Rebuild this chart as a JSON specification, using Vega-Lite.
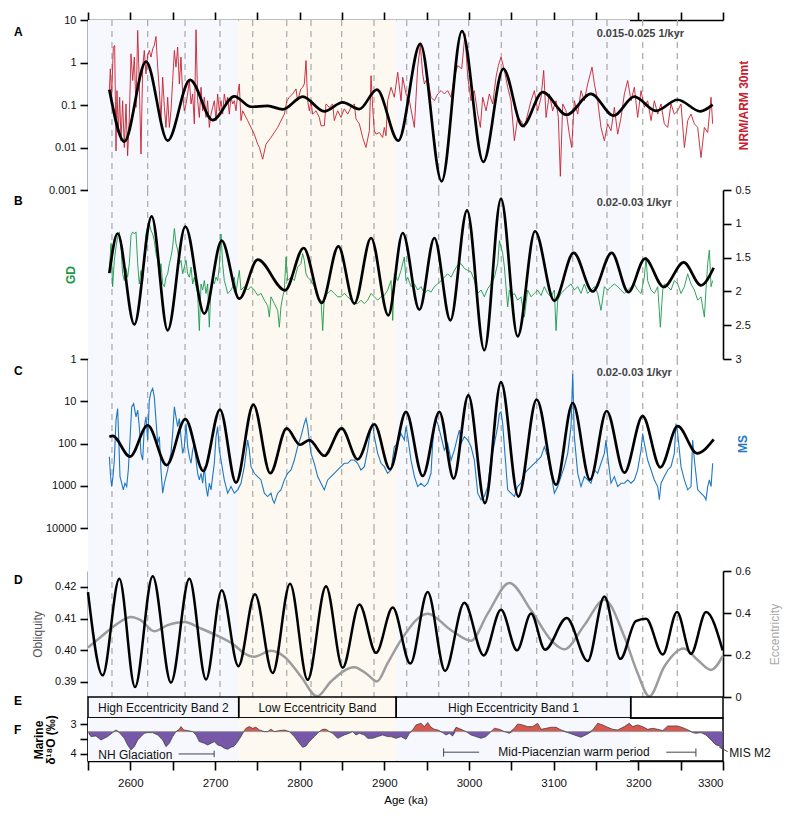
{
"$schema":"https://vega.github.io/schema/vega-lite/v6.json",
"padding":{"left":13,"top":11,"right":5,"bottom":5},
"spacing":0,
"bounds":"flush",
"config":{"font":"Liberation Sans","view":{"stroke":null},
"axis":{"grid":false,"domainColor":"#000","domainWidth":1.6,"tickColor":"#000","tickWidth":1.6,"tickSize":8,"labelFontSize":11,"labelColor":"#111","labelPadding":4,"titleFontWeight":"normal","titleColor":"#000"}},
"datasets":{
"bands":[{"s":2550,"e":2728,"c":"hi"},{"s":2728,"e":2914,"c":"lo"},{"s":2914,"e":3190,"c":"hi"}],
"dash":[{"a":2578.3},{"a":2620.5},{"a":2664.6},{"a":2705.9},{"a":2744.5},{"a":2784.7},{"a":2813.4},{"a":2849.6},{"a":2887.8},{"a":2926.4},{"a":2964.2},{"a":2999.6},{"a":3038.1},{"a":3080},{"a":3122.5},{"a":3163},{"a":3205.2},{"a":3246}],
"nrm":[{"a":2575.2,"v":0.218},{"a":2576.4,"v":0.71},{"a":2577.9,"v":0.152},{"a":2579.9,"v":2.3},{"a":2581.5,"v":2.52},{"a":2583.1,"v":0.0083},{"a":2584.2,"v":0.218},{"a":2585.8,"v":0.0226},{"a":2587.4,"v":0.152},{"a":2589.0,"v":0.0144},{"a":2590.9,"v":0.126},{"a":2592.9,"v":0.01},{"a":2594.9,"v":0.106},{"a":2596.8,"v":0.0064},{"a":2598.8,"v":0.051},{"a":2600.8,"v":1.6},{"a":2602.8,"v":0.376},{"a":2604.7,"v":1.34},{"a":2606.7,"v":0.088},{"a":2608.7,"v":5.7},{"a":2610.6,"v":0.313},{"a":2612.6,"v":0.007},{"a":2614.6,"v":0.78},{"a":2616.5,"v":1.92},{"a":2618.5,"v":0.54},{"a":2620.5,"v":1.46},{"a":2622.4,"v":1.92},{"a":2624.4,"v":1.34},{"a":2626.4,"v":2.1},{"a":2628.3,"v":2.52},{"a":2630.3,"v":4.1},{"a":2632.3,"v":0.78},{"a":2634.3,"v":0.218},{"a":2636.2,"v":0.043},{"a":2638.2,"v":0.45},{"a":2640.2,"v":0.088},{"a":2642.1,"v":0.0297},{"a":2644.1,"v":0.152},{"a":2646.1,"v":0.0297},{"a":2648.0,"v":0.073},{"a":2650.0,"v":0.376},{"a":2652.0,"v":1.92},{"a":2653.9,"v":0.78},{"a":2655.9,"v":2.3},{"a":2657.9,"v":0.313},{"a":2659.8,"v":1.34},{"a":2661.8,"v":0.182},{"a":2663.8,"v":0.073},{"a":2665.8,"v":0.106},{"a":2667.7,"v":0.182},{"a":2669.7,"v":0.376},{"a":2671.7,"v":0.106},{"a":2673.6,"v":0.182},{"a":2675.6,"v":0.036},{"a":2677.6,"v":5.9},{"a":2679.5,"v":0.126},{"a":2681.5,"v":0.051},{"a":2683.5,"v":0.261},{"a":2685.4,"v":0.073},{"a":2687.4,"v":0.152},{"a":2689.4,"v":0.051},{"a":2691.3,"v":0.126},{"a":2693.3,"v":0.0297},{"a":2695.3,"v":0.061},{"a":2697.2,"v":0.088},{"a":2699.2,"v":0.126},{"a":2701.2,"v":0.043},{"a":2703.1,"v":0.182},{"a":2705.1,"v":0.073},{"a":2707.1,"v":0.126},{"a":2709.0,"v":0.061},{"a":2711.0,"v":0.182},{"a":2713.0,"v":0.106},{"a":2715.0,"v":0.152},{"a":2716.9,"v":0.061},{"a":2718.9,"v":0.152},{"a":2720.9,"v":0.106},{"a":2722.8,"v":0.126},{"a":2724.8,"v":0.073},{"a":2726.8,"v":0.182},{"a":2728.7,"v":0.313},{"a":2730.7,"v":0.043},{"a":2732.7,"v":0.073},{"a":2738.6,"v":0.043},{"a":2746.4,"v":0.0206},{"a":2750.4,"v":0.012},{"a":2752.4,"v":0.01},{"a":2756.3,"v":0.0053},{"a":2760.2,"v":0.012},{"a":2766.1,"v":0.0172},{"a":2774.0,"v":0.0297},{"a":2781.9,"v":0.061},{"a":2785.0,"v":0.126},{"a":2787.8,"v":0.152},{"a":2791.7,"v":0.182},{"a":2795.7,"v":0.239},{"a":2797.6,"v":0.126},{"a":2801.5,"v":0.239},{"a":2803.5,"v":0.261},{"a":2805.5,"v":0.313},{"a":2807.5,"v":1.11},{"a":2809.4,"v":0.126},{"a":2811.4,"v":0.073},{"a":2813.4,"v":0.126},{"a":2815.3,"v":0.061},{"a":2819.3,"v":0.073},{"a":2823.2,"v":0.051},{"a":2825.2,"v":0.0325},{"a":2829.1,"v":0.0325},{"a":2831.1,"v":0.106},{"a":2835.0,"v":0.088},{"a":2839.0,"v":0.106},{"a":2840.9,"v":0.043},{"a":2844.9,"v":0.073},{"a":2848.8,"v":0.051},{"a":2852.7,"v":0.081},{"a":2856.7,"v":0.061},{"a":2860.6,"v":0.088},{"a":2864.6,"v":0.106},{"a":2866.5,"v":0.047},{"a":2870.5,"v":0.036},{"a":2874.4,"v":0.0172},{"a":2878.3,"v":0.01},{"a":2882.3,"v":0.0248},{"a":2884.3,"v":0.49},{"a":2886.2,"v":0.088},{"a":2888.2,"v":0.0248},{"a":2890.2,"v":0.0206},{"a":2894.1,"v":0.0226},{"a":2898.0,"v":0.0172},{"a":2900.0,"v":0.0297},{"a":2902.0,"v":0.0189},{"a":2903.9,"v":0.126},{"a":2907.9,"v":0.261},{"a":2911.8,"v":0.152},{"a":2915.8,"v":0.59},{"a":2919.7,"v":0.126},{"a":2921.7,"v":0.45},{"a":2925.6,"v":0.182},{"a":2929.6,"v":0.126},{"a":2935.5,"v":0.0297},{"a":2939.4,"v":0.78},{"a":2942.5,"v":2.52},{"a":2945.3,"v":0.54},{"a":2947.3,"v":0.313},{"a":2951.2,"v":0.45},{"a":2955.1,"v":0.152},{"a":2959.1,"v":0.126},{"a":2963.0,"v":0.182},{"a":2967.0,"v":0.218},{"a":2970.9,"v":0.182},{"a":2974.8,"v":0.218},{"a":2978.8,"v":0.152},{"a":2982.7,"v":0.45},{"a":2986.6,"v":0.85},{"a":2991.4,"v":0.71},{"a":2995.3,"v":4.75},{"a":2998.5,"v":0.45},{"a":3002.4,"v":0.126},{"a":3006.3,"v":0.218},{"a":3010.3,"v":0.061},{"a":3013.4,"v":0.0297},{"a":3016.2,"v":0.152},{"a":3020.1,"v":0.073},{"a":3024.0,"v":0.182},{"a":3028.0,"v":0.106},{"a":3031.9,"v":0.45},{"a":3034.7,"v":0.85},{"a":3037.8,"v":1.34},{"a":3041.8,"v":0.65},{"a":3045.7,"v":0.261},{"a":3049.6,"v":0.126},{"a":3053.6,"v":0.0144},{"a":3057.5,"v":0.051},{"a":3061.4,"v":0.043},{"a":3065.4,"v":0.0297},{"a":3069.3,"v":0.061},{"a":3073.3,"v":0.126},{"a":3077.2,"v":0.218},{"a":3081.1,"v":0.073},{"a":3085.1,"v":0.152},{"a":3088.2,"v":0.65},{"a":3091.0,"v":0.051},{"a":3094.9,"v":0.182},{"a":3098.8,"v":0.073},{"a":3102.8,"v":0.126},{"a":3105.5,"v":0.051},{"a":3107.9,"v":0.0021},{"a":3110.7,"v":0.106},{"a":3114.6,"v":0.073},{"a":3118.5,"v":0.0206},{"a":3121.3,"v":0.01},{"a":3124.4,"v":0.126},{"a":3128.4,"v":0.061},{"a":3132.3,"v":0.218},{"a":3136.2,"v":0.126},{"a":3140.2,"v":0.313},{"a":3143.3,"v":0.54},{"a":3145.3,"v":0.78},{"a":3148.1,"v":0.313},{"a":3152.0,"v":0.126},{"a":3155.9,"v":0.0297},{"a":3159.9,"v":0.0144},{"a":3163.8,"v":0.036},{"a":3167.7,"v":0.0248},{"a":3171.7,"v":0.088},{"a":3175.6,"v":0.0206},{"a":3179.6,"v":0.051},{"a":3183.5,"v":0.182},{"a":3187.4,"v":0.376},{"a":3191.4,"v":0.126},{"a":3195.3,"v":0.261},{"a":3199.2,"v":0.051},{"a":3203.2,"v":0.218},{"a":3207.1,"v":0.088},{"a":3211.0,"v":0.126},{"a":3215.0,"v":0.043},{"a":3218.9,"v":0.126},{"a":3222.9,"v":0.061},{"a":3226.8,"v":0.106},{"a":3230.7,"v":0.036},{"a":3234.7,"v":0.0297},{"a":3238.6,"v":0.106},{"a":3242.5,"v":0.061},{"a":3246.5,"v":0.073},{"a":3250.4,"v":0.106},{"a":3254.4,"v":0.01},{"a":3258.3,"v":0.043},{"a":3262.2,"v":0.061},{"a":3266.2,"v":0.036},{"a":3270.1,"v":0.0297},{"a":3274.0,"v":0.0058},{"a":3278.0,"v":0.0297},{"a":3281.9,"v":0.0226},{"a":3285.9,"v":0.152},{"a":3287.8,"v":0.036}],
"nrmF":[{"a":2575.2,"v":0.23},{"a":2592.9,"v":0.0138},{"a":2618.5,"v":1.05},{"a":2644.1,"v":0.0145},{"a":2670.5,"v":0.39},{"a":2697.3,"v":0.044},{"a":2722.8,"v":0.16},{"a":2742.5,"v":0.091},{"a":2762.2,"v":0.095},{"a":2780,"v":0.079},{"a":2803.6,"v":0.158},{"a":2829,"v":0.071},{"a":2850.8,"v":0.115},{"a":2870.4,"v":0.08},{"a":2891.3,"v":0.23},{"a":2916.5,"v":0.0145},{"a":2942.5,"v":2.75},{"a":2967.7,"v":0.0016},{"a":2991.7,"v":5.5},{"a":3016.9,"v":0.0046},{"a":3040.5,"v":0.71},{"a":3063.4,"v":0.032},{"a":3087,"v":0.2},{"a":3115.3,"v":0.059},{"a":3144,"v":0.182},{"a":3170.9,"v":0.056},{"a":3195.2,"v":0.158},{"a":3220.9,"v":0.073},{"a":3246.5,"v":0.133},{"a":3273.2,"v":0.071},{"a":3287.8,"v":0.102}],
"gd":[{"a":2575.2,"v":1.69},{"a":2577.2,"v":1.29},{"a":2579.1,"v":1.93},{"a":2581.1,"v":1.54},{"a":2583.1,"v":1.34},{"a":2585.0,"v":1.2},{"a":2587.0,"v":1.12},{"a":2589.0,"v":1.34},{"a":2590.9,"v":1.74},{"a":2592.9,"v":1.84},{"a":2594.9,"v":1.66},{"a":2596.8,"v":1.79},{"a":2598.8,"v":1.59},{"a":2600.8,"v":1.17},{"a":2602.8,"v":1.12},{"a":2604.7,"v":1.15},{"a":2606.7,"v":1.12},{"a":2608.7,"v":1.59},{"a":2610.6,"v":1.89},{"a":2612.6,"v":1.69},{"a":2614.6,"v":1.84},{"a":2616.5,"v":1.44},{"a":2618.5,"v":1.15},{"a":2620.5,"v":1.05},{"a":2622.4,"v":1.0},{"a":2624.4,"v":1.1},{"a":2626.4,"v":1.15},{"a":2628.3,"v":1.25},{"a":2630.3,"v":1.44},{"a":2632.3,"v":1.54},{"a":2634.3,"v":1.79},{"a":2636.2,"v":1.59},{"a":2638.2,"v":1.89},{"a":2640.2,"v":1.93},{"a":2642.1,"v":1.79},{"a":2644.1,"v":1.74},{"a":2646.1,"v":1.59},{"a":2648.0,"v":1.49},{"a":2650.0,"v":1.34},{"a":2652.0,"v":1.07},{"a":2653.9,"v":1.29},{"a":2655.9,"v":1.39},{"a":2657.9,"v":1.59},{"a":2659.8,"v":1.54},{"a":2661.8,"v":1.74},{"a":2663.8,"v":1.64},{"a":2665.8,"v":1.54},{"a":2667.7,"v":1.74},{"a":2669.7,"v":1.79},{"a":2671.7,"v":1.64},{"a":2673.6,"v":1.89},{"a":2675.6,"v":1.79},{"a":2677.6,"v":1.93},{"a":2679.5,"v":2.03},{"a":2681.5,"v":2.58},{"a":2683.5,"v":1.89},{"a":2685.4,"v":1.98},{"a":2687.4,"v":1.84},{"a":2689.4,"v":2.03},{"a":2691.3,"v":1.89},{"a":2693.3,"v":2.53},{"a":2695.3,"v":1.93},{"a":2697.2,"v":1.84},{"a":2699.2,"v":1.89},{"a":2701.2,"v":1.79},{"a":2703.1,"v":1.84},{"a":2705.1,"v":1.64},{"a":2707.1,"v":1.15},{"a":2709.0,"v":1.59},{"a":2711.0,"v":1.84},{"a":2713.0,"v":1.93},{"a":2715.0,"v":2.03},{"a":2716.9,"v":2.01},{"a":2718.9,"v":1.98},{"a":2720.9,"v":1.93},{"a":2722.8,"v":1.79},{"a":2724.8,"v":2.03},{"a":2726.8,"v":1.84},{"a":2728.7,"v":1.69},{"a":2730.7,"v":1.98},{"a":2734.6,"v":1.93},{"a":2738.6,"v":1.98},{"a":2742.5,"v":1.93},{"a":2746.4,"v":1.98},{"a":2750.4,"v":2.06},{"a":2754.3,"v":2.03},{"a":2758.3,"v":2.13},{"a":2762.2,"v":2.21},{"a":2764.2,"v":2.38},{"a":2766.1,"v":2.08},{"a":2770.1,"v":2.18},{"a":2774.0,"v":2.28},{"a":2776.0,"v":2.53},{"a":2777.9,"v":2.23},{"a":2779.9,"v":2.08},{"a":2781.9,"v":1.98},{"a":2783.9,"v":1.49},{"a":2785.8,"v":1.84},{"a":2789.8,"v":1.79},{"a":2793.7,"v":1.84},{"a":2797.6,"v":1.64},{"a":2801.5,"v":1.59},{"a":2803.5,"v":1.44},{"a":2805.5,"v":1.54},{"a":2807.5,"v":1.74},{"a":2809.4,"v":1.79},{"a":2813.4,"v":1.84},{"a":2817.3,"v":1.93},{"a":2821.3,"v":2.08},{"a":2825.2,"v":2.13},{"a":2827.2,"v":2.58},{"a":2829.1,"v":2.08},{"a":2833.1,"v":2.03},{"a":2837.0,"v":1.98},{"a":2840.9,"v":2.03},{"a":2844.9,"v":2.08},{"a":2848.8,"v":2.08},{"a":2852.7,"v":2.03},{"a":2856.7,"v":2.08},{"a":2860.6,"v":2.13},{"a":2864.6,"v":2.18},{"a":2868.5,"v":2.18},{"a":2872.4,"v":2.13},{"a":2876.4,"v":2.18},{"a":2880.3,"v":2.13},{"a":2884.3,"v":2.03},{"a":2888.2,"v":2.08},{"a":2892.1,"v":2.13},{"a":2896.1,"v":2.08},{"a":2900.0,"v":2.06},{"a":2903.9,"v":1.98},{"a":2907.9,"v":1.84},{"a":2909.9,"v":2.43},{"a":2911.8,"v":1.74},{"a":2915.8,"v":1.84},{"a":2919.7,"v":1.69},{"a":2923.6,"v":1.49},{"a":2925.6,"v":1.84},{"a":2927.6,"v":1.79},{"a":2931.5,"v":1.93},{"a":2935.5,"v":1.89},{"a":2939.4,"v":1.98},{"a":2943.3,"v":1.93},{"a":2947.3,"v":2.03},{"a":2951.2,"v":1.98},{"a":2955.1,"v":2.01},{"a":2959.1,"v":1.93},{"a":2963.0,"v":1.89},{"a":2967.0,"v":1.84},{"a":2970.9,"v":1.79},{"a":2974.8,"v":1.74},{"a":2978.8,"v":1.79},{"a":2982.7,"v":1.69},{"a":2986.6,"v":1.61},{"a":2990.6,"v":1.59},{"a":2994.5,"v":1.66},{"a":2998.5,"v":1.69},{"a":3002.4,"v":1.71},{"a":3006.3,"v":1.84},{"a":3010.3,"v":2.03},{"a":3014.2,"v":1.98},{"a":3018.1,"v":2.08},{"a":3022.1,"v":1.96},{"a":3026.0,"v":1.89},{"a":3030.0,"v":1.79},{"a":3033.9,"v":1.59},{"a":3035.9,"v":1.25},{"a":3037.8,"v":1.34},{"a":3039.8,"v":1.44},{"a":3041.8,"v":1.64},{"a":3043.7,"v":1.93},{"a":3045.7,"v":2.23},{"a":3047.7,"v":1.98},{"a":3049.6,"v":2.08},{"a":3053.6,"v":2.03},{"a":3057.5,"v":2.13},{"a":3061.4,"v":2.08},{"a":3065.4,"v":2.38},{"a":3069.3,"v":1.98},{"a":3073.3,"v":2.08},{"a":3077.2,"v":2.03},{"a":3081.1,"v":1.98},{"a":3085.1,"v":2.06},{"a":3089.0,"v":1.93},{"a":3092.9,"v":2.03},{"a":3096.9,"v":2.08},{"a":3100.8,"v":1.98},{"a":3102.8,"v":2.58},{"a":3104.8,"v":2.13},{"a":3108.7,"v":2.03},{"a":3112.6,"v":1.98},{"a":3116.6,"v":1.93},{"a":3120.5,"v":1.89},{"a":3124.4,"v":1.98},{"a":3128.4,"v":1.93},{"a":3132.3,"v":2.03},{"a":3136.2,"v":1.89},{"a":3140.2,"v":2.03},{"a":3144.1,"v":1.98},{"a":3148.1,"v":1.93},{"a":3152.0,"v":2.03},{"a":3155.9,"v":2.28},{"a":3159.9,"v":1.93},{"a":3163.8,"v":1.98},{"a":3167.7,"v":1.93},{"a":3171.7,"v":1.89},{"a":3175.6,"v":1.93},{"a":3179.6,"v":1.98},{"a":3183.5,"v":2.03},{"a":3187.4,"v":1.98},{"a":3191.4,"v":1.93},{"a":3195.3,"v":1.89},{"a":3199.2,"v":1.98},{"a":3203.2,"v":2.03},{"a":3207.1,"v":1.79},{"a":3209.1,"v":1.49},{"a":3211.0,"v":1.84},{"a":3215.0,"v":1.98},{"a":3218.9,"v":2.03},{"a":3222.9,"v":1.93},{"a":3226.0,"v":2.53},{"a":3228.8,"v":1.98},{"a":3230.7,"v":1.89},{"a":3234.7,"v":1.93},{"a":3238.6,"v":1.98},{"a":3242.5,"v":1.84},{"a":3246.5,"v":1.89},{"a":3250.4,"v":2.03},{"a":3254.4,"v":1.93},{"a":3258.3,"v":1.74},{"a":3262.2,"v":1.89},{"a":3266.2,"v":1.98},{"a":3270.1,"v":2.13},{"a":3274.0,"v":2.08},{"a":3278.0,"v":2.38},{"a":3279.9,"v":1.98},{"a":3281.9,"v":1.59},{"a":3283.9,"v":1.39},{"a":3285.9,"v":1.93},{"a":3287.8,"v":1.84}],
"gdF":[{"a":2575.2,"v":1.73},{"a":2585.0,"v":1.146},{"a":2604.7,"v":2.49},{"a":2625.2,"v":0.89},{"a":2644.1,"v":2.576},{"a":2665.0,"v":1.04},{"a":2687.4,"v":2.33},{"a":2707.9,"v":1.25},{"a":2728.7,"v":2.107},{"a":2750.4,"v":1.53},{"a":2782.7,"v":1.984},{"a":2804.7,"v":1.358},{"a":2826.0,"v":2.17},{"a":2845.7,"v":1.333},{"a":2864.6,"v":2.18},{"a":2884.3,"v":1.21},{"a":2904.7,"v":2.354},{"a":2921.7,"v":1.136},{"a":2941.4,"v":2.27},{"a":2959.1,"v":1.21},{"a":2978.0,"v":2.428},{"a":2997.7,"v":0.8},{"a":3018.1,"v":2.87},{"a":3037.8,"v":0.628},{"a":3057.5,"v":2.665},{"a":3078.0,"v":1.11},{"a":3100.8,"v":2.14},{"a":3123.6,"v":1.43},{"a":3146.1,"v":2.0},{"a":3168.5,"v":1.43},{"a":3188.2,"v":2.01},{"a":3207.9,"v":1.516},{"a":3229.9,"v":1.935},{"a":3253.6,"v":1.57},{"a":3274.0,"v":1.91},{"a":3289.0,"v":1.65}],
"ms":[{"a":2575.2,"v":205},{"a":2576.4,"v":507},{"a":2577.9,"v":1045},{"a":2579.5,"v":607},{"a":2581.1,"v":246},{"a":2583.1,"v":28},{"a":2585.0,"v":14.9},{"a":2586.2,"v":69},{"a":2587.8,"v":607},{"a":2589.8,"v":872},{"a":2591.7,"v":1250},{"a":2593.7,"v":872},{"a":2595.7,"v":1045},{"a":2597.6,"v":423},{"a":2599.6,"v":83},{"a":2601.6,"v":13.6},{"a":2603.9,"v":11.4},{"a":2606.7,"v":23.4},{"a":2608.7,"v":16.3},{"a":2610.6,"v":40},{"a":2612.6,"v":171},{"a":2614.6,"v":246},{"a":2616.5,"v":40},{"a":2618.5,"v":23.4},{"a":2620.5,"v":83},{"a":2622.4,"v":9.5},{"a":2624.4,"v":6.0},{"a":2626.4,"v":5.0},{"a":2628.3,"v":7.9},{"a":2630.3,"v":28},{"a":2632.3,"v":99.5},{"a":2634.3,"v":69},{"a":2636.2,"v":423},{"a":2638.2,"v":1500},{"a":2640.2,"v":872},{"a":2642.1,"v":607},{"a":2644.1,"v":423},{"a":2646.1,"v":246},{"a":2648.0,"v":171},{"a":2650.0,"v":58},{"a":2652.0,"v":13.6},{"a":2653.9,"v":23.4},{"a":2655.9,"v":40},{"a":2657.9,"v":25.6},{"a":2659.8,"v":69},{"a":2661.8,"v":171},{"a":2663.8,"v":119},{"a":2665.8,"v":33.6},{"a":2667.7,"v":119},{"a":2669.7,"v":205},{"a":2671.7,"v":294},{"a":2673.6,"v":143},{"a":2675.6,"v":99.5},{"a":2677.6,"v":246},{"a":2679.5,"v":507},{"a":2681.5,"v":728},{"a":2683.5,"v":507},{"a":2685.4,"v":872},{"a":2687.4,"v":353},{"a":2689.4,"v":1045},{"a":2691.3,"v":1800},{"a":2693.3,"v":872},{"a":2695.3,"v":1250},{"a":2697.2,"v":607},{"a":2699.2,"v":294},{"a":2701.2,"v":69},{"a":2703.1,"v":40},{"a":2705.1,"v":143},{"a":2707.1,"v":246},{"a":2709.0,"v":423},{"a":2711.0,"v":728},{"a":2713.0,"v":1045},{"a":2715.0,"v":1500},{"a":2718.9,"v":1045},{"a":2722.8,"v":1500},{"a":2726.8,"v":1250},{"a":2730.7,"v":872},{"a":2734.6,"v":353},{"a":2738.6,"v":83},{"a":2740.5,"v":143},{"a":2742.5,"v":353},{"a":2746.4,"v":507},{"a":2750.4,"v":607},{"a":2754.3,"v":728},{"a":2758.3,"v":1500},{"a":2762.2,"v":1800},{"a":2766.1,"v":1500},{"a":2768.1,"v":2150},{"a":2770.1,"v":2580},{"a":2774.0,"v":1500},{"a":2777.9,"v":1250},{"a":2781.9,"v":728},{"a":2785.8,"v":507},{"a":2789.8,"v":423},{"a":2793.7,"v":246},{"a":2797.6,"v":119},{"a":2801.5,"v":69},{"a":2805.5,"v":33.6},{"a":2807.5,"v":25.6},{"a":2809.4,"v":40},{"a":2811.4,"v":83},{"a":2813.4,"v":171},{"a":2817.3,"v":294},{"a":2821.3,"v":607},{"a":2825.2,"v":872},{"a":2829.1,"v":1250},{"a":2833.1,"v":728},{"a":2837.0,"v":607},{"a":2840.9,"v":507},{"a":2844.9,"v":423},{"a":2848.8,"v":353},{"a":2852.7,"v":294},{"a":2856.7,"v":294},{"a":2860.6,"v":246},{"a":2864.6,"v":246},{"a":2868.5,"v":294},{"a":2872.4,"v":423},{"a":2876.4,"v":353},{"a":2880.3,"v":143},{"a":2884.3,"v":40},{"a":2886.2,"v":33.6},{"a":2888.2,"v":69},{"a":2892.1,"v":171},{"a":2896.1,"v":294},{"a":2900.0,"v":353},{"a":2903.9,"v":507},{"a":2907.9,"v":423},{"a":2911.8,"v":119},{"a":2915.8,"v":99.5},{"a":2919.7,"v":58},{"a":2923.6,"v":83},{"a":2925.6,"v":40},{"a":2927.6,"v":69},{"a":2931.5,"v":246},{"a":2935.5,"v":607},{"a":2939.4,"v":1045},{"a":2943.3,"v":872},{"a":2947.3,"v":1045},{"a":2951.2,"v":872},{"a":2955.1,"v":507},{"a":2957.1,"v":99.5},{"a":2959.1,"v":40},{"a":2961.1,"v":28},{"a":2963.0,"v":33.6},{"a":2967.0,"v":69},{"a":2970.9,"v":143},{"a":2974.8,"v":99.5},{"a":2978.8,"v":246},{"a":2982.7,"v":143},{"a":2986.6,"v":69},{"a":2988.6,"v":48},{"a":2990.6,"v":99.5},{"a":2994.5,"v":69},{"a":2998.5,"v":83},{"a":3002.4,"v":119},{"a":3006.3,"v":246},{"a":3010.3,"v":1500},{"a":3014.2,"v":2150},{"a":3018.1,"v":1800},{"a":3022.1,"v":1045},{"a":3026.0,"v":246},{"a":3030.0,"v":99.5},{"a":3033.9,"v":40},{"a":3035.9,"v":19.5},{"a":3037.8,"v":17.8},{"a":3039.8,"v":33.6},{"a":3041.8,"v":119},{"a":3045.7,"v":1250},{"a":3049.6,"v":1500},{"a":3053.6,"v":1800},{"a":3057.5,"v":1045},{"a":3061.4,"v":872},{"a":3065.4,"v":507},{"a":3069.3,"v":423},{"a":3073.3,"v":353},{"a":3077.2,"v":294},{"a":3081.1,"v":246},{"a":3085.1,"v":205},{"a":3089.0,"v":119},{"a":3092.9,"v":205},{"a":3096.9,"v":507},{"a":3100.8,"v":1500},{"a":3104.8,"v":1045},{"a":3108.7,"v":607},{"a":3112.6,"v":353},{"a":3116.6,"v":171},{"a":3120.5,"v":40},{"a":3122.5,"v":2.23},{"a":3124.4,"v":69},{"a":3128.4,"v":507},{"a":3132.3,"v":1045},{"a":3136.2,"v":607},{"a":3140.2,"v":728},{"a":3144.1,"v":872},{"a":3148.1,"v":423},{"a":3152.0,"v":507},{"a":3155.9,"v":294},{"a":3159.9,"v":171},{"a":3161.8,"v":83},{"a":3163.8,"v":205},{"a":3167.7,"v":872},{"a":3171.7,"v":607},{"a":3175.6,"v":1045},{"a":3179.6,"v":872},{"a":3183.5,"v":872},{"a":3187.4,"v":728},{"a":3191.4,"v":872},{"a":3195.3,"v":728},{"a":3199.2,"v":423},{"a":3203.2,"v":143},{"a":3205.1,"v":58},{"a":3207.1,"v":99.5},{"a":3211.0,"v":246},{"a":3215.0,"v":423},{"a":3218.9,"v":728},{"a":3222.9,"v":1045},{"a":3224.8,"v":2150},{"a":3226.8,"v":872},{"a":3230.7,"v":607},{"a":3234.7,"v":423},{"a":3238.6,"v":353},{"a":3242.5,"v":171},{"a":3244.5,"v":33.6},{"a":3246.5,"v":58},{"a":3250.4,"v":353},{"a":3254.4,"v":728},{"a":3258.3,"v":1250},{"a":3262.2,"v":1045},{"a":3264.2,"v":83},{"a":3266.2,"v":246},{"a":3270.1,"v":1250},{"a":3274.0,"v":1500},{"a":3278.0,"v":1800},{"a":3279.9,"v":2150},{"a":3281.9,"v":1045},{"a":3283.9,"v":728},{"a":3285.9,"v":1045},{"a":3287.8,"v":294}],
"msF":[{"a":2575.2,"v":69},{"a":2579.1,"v":66},{"a":2599.6,"v":205},{"a":2620.5,"v":37},{"a":2642.9,"v":324},{"a":2665.0,"v":26.5},{"a":2686.2,"v":446},{"a":2705.9,"v":15.7},{"a":2724.8,"v":841},{"a":2745.3,"v":12},{"a":2765.3,"v":505},{"a":2784.6,"v":44},{"a":2800.4,"v":107},{"a":2811.4,"v":83},{"a":2829.1,"v":195},{"a":2849.6,"v":44},{"a":2868.5,"v":237},{"a":2888.2,"v":35},{"a":2906.7,"v":407},{"a":2925.6,"v":17.9},{"a":2945.3,"v":585},{"a":2965.0,"v":17.9},{"a":2981.9,"v":675},{"a":2999.2,"v":7.2},{"a":3018.9,"v":2580},{"a":3037.8,"v":3.5},{"a":3058.3,"v":1800},{"a":3079.9,"v":9.1},{"a":3102.8,"v":955},{"a":3122.5,"v":11},{"a":3142.9,"v":725},{"a":3162.6,"v":17},{"a":3183.5,"v":490},{"a":3205.1,"v":22.6},{"a":3226.0,"v":366},{"a":3246.5,"v":39},{"a":3269.3,"v":171},{"a":3289.0,"v":80}],
"obl":[{"a":2550,"v":0.4184},{"a":2567.3,"v":0.3921},{"a":2587.0,"v":0.4226},{"a":2605.5,"v":0.3884},{"a":2626.4,"v":0.4234},{"a":2648.0,"v":0.3898},{"a":2669.7,"v":0.4226},{"a":2689.4,"v":0.3908},{"a":2707.9,"v":0.419},{"a":2727.6,"v":0.395},{"a":2747.2,"v":0.4177},{"a":2768.1,"v":0.3928},{"a":2788.6,"v":0.421},{"a":2809.4,"v":0.3907},{"a":2831.1,"v":0.4202},{"a":2850.8,"v":0.3945},{"a":2870.5,"v":0.4145},{"a":2890.2,"v":0.3992},{"a":2909.9,"v":0.4135},{"a":2930.7,"v":0.3958},{"a":2951.2,"v":0.4184},{"a":2971.7,"v":0.3935},{"a":2994.5,"v":0.415},{"a":3017.3,"v":0.3984},{"a":3037.8,"v":0.4128},{"a":3056.7,"v":0.4},{"a":3073.3,"v":0.4116},{"a":3089.8,"v":0.4002},{"a":3115.4,"v":0.4102},{"a":3140.2,"v":0.3966},{"a":3159.9,"v":0.417},{"a":3178.8,"v":0.3973},{"a":3197,"v":0.4092},{"a":3209.1,"v":0.41},{"a":3228.8,"v":0.3987},{"a":3245.7,"v":0.4121},{"a":3262.2,"v":0.3989},{"a":3280.0,"v":0.4121},{"a":3299.6,"v":0.4}],
"ecc":[{"a":2550,"v":0.236},{"a":2565.4,"v":0.287},{"a":2585.0,"v":0.35},{"a":2600.8,"v":0.381},{"a":2612.6,"v":0.365},{"a":2628.3,"v":0.313},{"a":2644.1,"v":0.342},{"a":2663.8,"v":0.357},{"a":2683.5,"v":0.326},{"a":2703.1,"v":0.291},{"a":2722.8,"v":0.247},{"a":2734.6,"v":0.208},{"a":2746.4,"v":0.192},{"a":2766.1,"v":0.22},{"a":2781.9,"v":0.192},{"a":2801.5,"v":0.098},{"a":2820.5,"v":0.003},{"a":2837.0,"v":0.074},{"a":2864.6,"v":0.142},{"a":2880.3,"v":0.106},{"a":2891.3,"v":0.074},{"a":2903.9,"v":0.161},{"a":2919.7,"v":0.271},{"a":2951.2,"v":0.397},{"a":2978.8,"v":0.318},{"a":3002.4,"v":0.268},{"a":3022.1,"v":0.397},{"a":3047.7,"v":0.543},{"a":3073.3,"v":0.413},{"a":3096.9,"v":0.271},{"a":3112.6,"v":0.227},{"a":3136.2,"v":0.342},{"a":3159.9,"v":0.463},{"a":3183.5,"v":0.287},{"a":3199.2,"v":0.113},{"a":3213.0,"v":0.003},{"a":3230.7,"v":0.145},{"a":3253.6,"v":0.231},{"a":3270.1,"v":0.176},{"a":3285.9,"v":0.129},{"a":3299.6,"v":0.195}],
"d18o":[{"a":2550.4,"v":3.281},{"a":2553.5,"v":3.416},{"a":2559.4,"v":3.393},{"a":2565.3,"v":3.528},{"a":2573.2,"v":3.416},{"a":2579.1,"v":3.281},{"a":2583.1,"v":3.191},{"a":2587.0,"v":3.281},{"a":2592.9,"v":3.472},{"a":2596.8,"v":3.697},{"a":2600.8,"v":3.865},{"a":2604.7,"v":3.753},{"a":2608.7,"v":3.528},{"a":2612.6,"v":3.416},{"a":2616.5,"v":3.303},{"a":2620.5,"v":3.281},{"a":2626.4,"v":3.281},{"a":2632.3,"v":3.36},{"a":2638.2,"v":3.528},{"a":2642.1,"v":3.753},{"a":2646.1,"v":3.64},{"a":2650.0,"v":3.416},{"a":2653.9,"v":3.247},{"a":2657.9,"v":3.169},{"a":2659.8,"v":3.079},{"a":2663.0,"v":3.191},{"a":2667.7,"v":3.213},{"a":2673.6,"v":3.247},{"a":2677.6,"v":3.36},{"a":2681.5,"v":3.584},{"a":2687.4,"v":3.64},{"a":2691.3,"v":3.697},{"a":2695.3,"v":3.64},{"a":2699.2,"v":3.584},{"a":2703.1,"v":3.697},{"a":2707.1,"v":3.73},{"a":2711.0,"v":3.809},{"a":2715.0,"v":3.843},{"a":2718.9,"v":3.775},{"a":2722.8,"v":3.73},{"a":2726.8,"v":3.584},{"a":2730.7,"v":3.416},{"a":2733.9,"v":3.247},{"a":2736.6,"v":3.135},{"a":2740.5,"v":3.079},{"a":2744.5,"v":3.135},{"a":2748.4,"v":3.101},{"a":2752.4,"v":3.191},{"a":2758.3,"v":3.247},{"a":2762.2,"v":3.247},{"a":2766.1,"v":3.169},{"a":2770.1,"v":3.247},{"a":2776.0,"v":3.213},{"a":2781.9,"v":3.191},{"a":2787.8,"v":3.247},{"a":2793.7,"v":3.416},{"a":2799.6,"v":3.64},{"a":2803.5,"v":3.775},{"a":2807.5,"v":3.73},{"a":2811.4,"v":3.584},{"a":2817.3,"v":3.416},{"a":2823.2,"v":3.247},{"a":2827.2,"v":3.169},{"a":2831.1,"v":3.169},{"a":2835.0,"v":3.247},{"a":2839.0,"v":3.303},{"a":2844.9,"v":3.472},{"a":2848.8,"v":3.416},{"a":2852.7,"v":3.36},{"a":2858.6,"v":3.303},{"a":2862.6,"v":3.247},{"a":2866.5,"v":3.36},{"a":2870.5,"v":3.303},{"a":2876.4,"v":3.36},{"a":2880.3,"v":3.472},{"a":2886.2,"v":3.472},{"a":2892.1,"v":3.416},{"a":2898.0,"v":3.36},{"a":2903.9,"v":3.416},{"a":2907.9,"v":3.416},{"a":2913.8,"v":3.472},{"a":2919.7,"v":3.416},{"a":2925.6,"v":3.506},{"a":2929.6,"v":3.303},{"a":2933.5,"v":3.191},{"a":2937.4,"v":3.022},{"a":2943.3,"v":2.966},{"a":2947.3,"v":3.079},{"a":2951.2,"v":2.944},{"a":2955.1,"v":3.101},{"a":2959.1,"v":3.169},{"a":2963.0,"v":3.191},{"a":2968.9,"v":3.281},{"a":2972.9,"v":3.36},{"a":2976.8,"v":3.303},{"a":2980.7,"v":3.393},{"a":2984.7,"v":3.101},{"a":2990.6,"v":3.169},{"a":2996.5,"v":3.247},{"a":3002.4,"v":3.36},{"a":3008.3,"v":3.416},{"a":3014.2,"v":3.472},{"a":3020.1,"v":3.416},{"a":3026.0,"v":3.247},{"a":3030.0,"v":3.135},{"a":3035.9,"v":3.169},{"a":3041.8,"v":3.247},{"a":3047.7,"v":3.303},{"a":3053.6,"v":3.135},{"a":3057.5,"v":2.989},{"a":3063.4,"v":3.022},{"a":3069.3,"v":3.079},{"a":3075.2,"v":3.079},{"a":3081.1,"v":2.966},{"a":3085.1,"v":3.169},{"a":3091.0,"v":3.135},{"a":3096.9,"v":3.101},{"a":3102.8,"v":3.101},{"a":3108.7,"v":3.191},{"a":3116.6,"v":3.281},{"a":3124.4,"v":3.36},{"a":3132.3,"v":3.438},{"a":3140.2,"v":3.326},{"a":3146.1,"v":3.191},{"a":3152.0,"v":2.966},{"a":3157.9,"v":3.022},{"a":3163.8,"v":3.101},{"a":3169.7,"v":3.169},{"a":3175.6,"v":3.191},{"a":3183.5,"v":3.079},{"a":3189.4,"v":2.966},{"a":3193.3,"v":3.079},{"a":3199.2,"v":3.022},{"a":3205.1,"v":3.079},{"a":3211.0,"v":3.169},{"a":3216.9,"v":3.135},{"a":3222.9,"v":3.169},{"a":3228.8,"v":3.213},{"a":3234.7,"v":3.056},{"a":3240.6,"v":3.056},{"a":3246.5,"v":3.056},{"a":3254.4,"v":3.135},{"a":3260.3,"v":3.213},{"a":3264.2,"v":3.281},{"a":3268.1,"v":3.303},{"a":3274.0,"v":3.281},{"a":3279.9,"v":3.36},{"a":3285.9,"v":3.528},{"a":3291.8,"v":3.697},{"a":3295.7,"v":3.73},{"a":3299.6,"v":3.809}],
"eb":[{"s":2550,"e":2728,"m":2639,"t":"High Eccentricity Band 2"},{"s":2728,"e":2914,"m":2821,"t":"Low Eccentricity Band"},{"s":2914,"e":3191,"m":3052.5,"t":"High Eccentricity Band 1"},{"s":3191,"e":3300,"m":3245.5,"t":""}],
"annr":[{"x1":2657,"x2":2699,"y1":4.0,"y2":4.0},{"x1":2699,"x2":2699,"y1":3.89,"y2":4.11},{"x1":2970,"x2":3012,"y1":3.94,"y2":3.94},{"x1":3233,"x2":3268,"y1":3.94,"y2":3.94},{"x1":2970,"x2":2970,"y1":3.81,"y2":4.09},{"x1":3268,"x2":3268,"y1":3.81,"y2":4.09},{"x1":3295.6,"x2":3305.5,"y1":3.77,"y2":3.92}],
"annt":[{"x":2562.2,"y":4.03,"t":"NH Glaciation"},{"x":3034.6,"y":3.94,"t":"Mid-Piacenzian warm period"},{"x":3307.5,"y":3.96,"t":"MIS M2"}]
},
"vconcat":[
{"width":635,"height":170,
"title":{"text":"A","anchor":"start","frame":"group","offset":0,"dx":-74,"dy":37,"baseline":"alphabetic","fontSize":12,"fontWeight":"bold","color":"#000"},
"layer":[
{"data":{"name":"bands"},"mark":{"type":"rect"},"encoding":{"x":{"field":"s","type":"quantitative","scale":{"domain":[2550,3300],"nice":false,"zero":false},"axis":{"orient":"top","values":[2550,2600,2650,2700,2750,2800,2850,2900,2950,3000,3050,3100,3150,3200,3250,3300],"labels":false,"title":null,"tickSize":8}},"x2":{"field":"e"},"color":{"field":"c","type":"nominal","scale":{"domain":["hi","lo"],"range":["#f6f8fe","#fdf9f0"]},"legend":null}}},
{"data":{"name":"dash"},"mark":{"type":"rule","color":"#a8a8a8","strokeWidth":1.2,"strokeDash":[6,5]},"encoding":{"x":{"field":"a","type":"quantitative","scale":{"domain":[2550,3300],"nice":false,"zero":false},"axis":{"orient":"top","values":[2550,2600,2650,2700,2750,2800,2850,2900,2950,3000,3050,3100,3150,3200,3250,3300],"labels":false,"title":null,"tickSize":8}}}},
{"data":{"name":"nrm"},"mark":{"type":"line","color":"#c6202f","strokeWidth":0.9},"encoding":{"x":{"field":"a","type":"quantitative","scale":{"domain":[2550,3300],"nice":false,"zero":false},"axis":{"orient":"top","values":[2550,2600,2650,2700,2750,2800,2850,2900,2950,3000,3050,3100,3150,3200,3250,3300],"labels":false,"title":null,"tickSize":8}},"y":{"field":"v","type":"quantitative","scale":{"type":"log","domain":[0.001,10],"nice":false},"axis":{"values":[0.001,0.01,0.1,1,10],"format":"~g","title":"NRM/ARM 30mt","titleX":655.7,"titleY":85,"titleAngle":270,"titleBaseline":"middle","titleAlign":"center","titleColor":"#c6202f","titleFontWeight":"bold","titleFontSize":12}}}},
{"data":{"name":"nrmF"},"mark":{"type":"line","color":"#000","strokeWidth":2.7,"interpolate":"monotone"},"encoding":{"x":{"field":"a","type":"quantitative","scale":{"domain":[2550,3300],"nice":false,"zero":false},"axis":{"orient":"top","values":[2550,2600,2650,2700,2750,2800,2850,2900,2950,3000,3050,3100,3150,3200,3250,3300],"labels":false,"title":null,"tickSize":8}},"y":{"field":"v","type":"quantitative","scale":{"type":"log","domain":[0.001,10],"nice":false},"axis":{"values":[0.001,0.01,0.1,1,10],"format":"~g","title":"NRM/ARM 30mt","titleX":655.7,"titleY":85,"titleAngle":270,"titleBaseline":"middle","titleAlign":"center","titleColor":"#c6202f","titleFontWeight":"bold","titleFontSize":12}}}},
{"data":{"values":[{}]},"mark":{"type":"text","align":"left","baseline":"middle","fontWeight":"bold","fontSize":11,"color":"#444","text":"0.015-0.025 1/kyr"},"encoding":{"x":{"datum":3150.8,"type":"quantitative","scale":{"domain":[2550,3300],"nice":false,"zero":false},"axis":{"orient":"top","values":[2550,2600,2650,2700,2750,2800,2850,2900,2950,3000,3050,3100,3150,3200,3250,3300],"labels":false,"title":null,"tickSize":8}},"y":{"datum":4.77,"type":"quantitative","scale":{"type":"log","domain":[0.001,10],"nice":false},"axis":{"values":[0.001,0.01,0.1,1,10],"format":"~g","title":"NRM/ARM 30mt","titleX":655.7,"titleY":85,"titleAngle":270,"titleBaseline":"middle","titleAlign":"center","titleColor":"#c6202f","titleFontWeight":"bold","titleFontSize":12}}}}
]},
{"width":635,"height":169,
"title":{"text":"B","anchor":"start","frame":"group","offset":0,"dx":-74,"dy":33,"baseline":"alphabetic","fontSize":12,"fontWeight":"bold","color":"#000"},
"layer":[
{"data":{"name":"bands"},"mark":{"type":"rect"},"encoding":{"x":{"field":"s","type":"quantitative","scale":{"domain":[2550,3300],"nice":false,"zero":false},"axis":null},"x2":{"field":"e"},"color":{"field":"c","type":"nominal","scale":{"domain":["hi","lo"],"range":["#f6f8fe","#fdf9f0"]},"legend":null}}},
{"data":{"name":"dash"},"mark":{"type":"rule","color":"#a8a8a8","strokeWidth":1.2,"strokeDash":[6,5]},"encoding":{"x":{"field":"a","type":"quantitative","scale":{"domain":[2550,3300],"nice":false,"zero":false},"axis":null}}},
{"data":{"name":"gd"},"mark":{"type":"line","color":"#1a9a48","strokeWidth":0.9},"encoding":{"x":{"field":"a","type":"quantitative","scale":{"domain":[2550,3300],"nice":false,"zero":false},"axis":null},"y":{"field":"v","type":"quantitative","scale":{"domain":[0.5,3],"reverse":true,"nice":false,"zero":false},"axis":{"orient":"right","values":[0.5,1,1.5,2,2.5,3],"format":"~g","title":"GD","titleX":-652.7,"titleY":84.5,"titleAngle":270,"titleBaseline":"middle","titleAlign":"center","titleColor":"#1a9a48","titleFontWeight":"bold","titleFontSize":12}}}},
{"data":{"name":"gdF"},"mark":{"type":"line","color":"#000","strokeWidth":2.7,"interpolate":"monotone"},"encoding":{"x":{"field":"a","type":"quantitative","scale":{"domain":[2550,3300],"nice":false,"zero":false},"axis":null},"y":{"field":"v","type":"quantitative","scale":{"domain":[0.5,3],"reverse":true,"nice":false,"zero":false},"axis":{"orient":"right","values":[0.5,1,1.5,2,2.5,3],"format":"~g","title":"GD","titleX":-652.7,"titleY":84.5,"titleAngle":270,"titleBaseline":"middle","titleAlign":"center","titleColor":"#1a9a48","titleFontWeight":"bold","titleFontSize":12}}}},
{"data":{"values":[{}]},"mark":{"type":"text","align":"left","baseline":"middle","fontWeight":"bold","fontSize":11,"color":"#444","text":"0.02-0.03 1/kyr"},"encoding":{"x":{"datum":3150.8,"type":"quantitative","scale":{"domain":[2550,3300],"nice":false,"zero":false},"axis":null},"y":{"datum":0.694,"type":"quantitative","scale":{"domain":[0.5,3],"reverse":true,"nice":false,"zero":false},"axis":{"orient":"right","values":[0.5,1,1.5,2,2.5,3],"format":"~g","title":"GD","titleX":-652.7,"titleY":84.5,"titleAngle":270,"titleBaseline":"middle","titleAlign":"center","titleColor":"#1a9a48","titleFontWeight":"bold","titleFontSize":12}}}}
]},
{"width":635,"height":169,
"title":{"text":"C","anchor":"start","frame":"group","offset":0,"dx":-74,"dy":34,"baseline":"alphabetic","fontSize":12,"fontWeight":"bold","color":"#000"},
"layer":[
{"data":{"name":"bands"},"mark":{"type":"rect"},"encoding":{"x":{"field":"s","type":"quantitative","scale":{"domain":[2550,3300],"nice":false,"zero":false},"axis":null},"x2":{"field":"e"},"color":{"field":"c","type":"nominal","scale":{"domain":["hi","lo"],"range":["#f6f8fe","#fdf9f0"]},"legend":null}}},
{"data":{"name":"dash"},"mark":{"type":"rule","color":"#a8a8a8","strokeWidth":1.2,"strokeDash":[6,5]},"encoding":{"x":{"field":"a","type":"quantitative","scale":{"domain":[2550,3300],"nice":false,"zero":false},"axis":null}}},
{"data":{"name":"ms"},"mark":{"type":"line","color":"#1f78c1","strokeWidth":1.1},"encoding":{"x":{"field":"a","type":"quantitative","scale":{"domain":[2550,3300],"nice":false,"zero":false},"axis":null},"y":{"field":"v","type":"quantitative","scale":{"type":"log","domain":[1,10000],"reverse":true,"nice":false},"axis":{"values":[1,10,100,1000,10000],"format":"d","title":"MS","titleX":654.7,"titleY":84.5,"titleAngle":270,"titleBaseline":"middle","titleAlign":"center","titleColor":"#1f78c1","titleFontWeight":"bold","titleFontSize":12}}}},
{"data":{"name":"msF"},"mark":{"type":"line","color":"#000","strokeWidth":2.7,"interpolate":"monotone"},"encoding":{"x":{"field":"a","type":"quantitative","scale":{"domain":[2550,3300],"nice":false,"zero":false},"axis":null},"y":{"field":"v","type":"quantitative","scale":{"type":"log","domain":[1,10000],"reverse":true,"nice":false},"axis":{"values":[1,10,100,1000,10000],"format":"d","title":"MS","titleX":654.7,"titleY":84.5,"titleAngle":270,"titleBaseline":"middle","titleAlign":"center","titleColor":"#1f78c1","titleFontWeight":"bold","titleFontSize":12}}}},
{"data":{"values":[{}]},"mark":{"type":"text","align":"left","baseline":"middle","fontWeight":"bold","fontSize":11,"color":"#444","text":"0.02-0.03 1/kyr"},"encoding":{"x":{"datum":3150.8,"type":"quantitative","scale":{"domain":[2550,3300],"nice":false,"zero":false},"axis":null},"y":{"datum":2.16,"type":"quantitative","scale":{"type":"log","domain":[1,10000],"reverse":true,"nice":false},"axis":{"values":[1,10,100,1000,10000],"format":"d","title":"MS","titleX":654.7,"titleY":84.5,"titleAngle":270,"titleBaseline":"middle","titleAlign":"center","titleColor":"#1f78c1","titleFontWeight":"bold","titleFontSize":12}}}}
]},
{"width":635,"height":43,
"layer":[
{"data":{"name":"bands"},"mark":{"type":"rect"},"encoding":{"x":{"field":"s","type":"quantitative","scale":{"domain":[2550,3300],"nice":false,"zero":false},"axis":null},"x2":{"field":"e"},"color":{"field":"c","type":"nominal","scale":{"domain":["hi","lo"],"range":["#f6f8fe","#fdf9f0"]},"legend":null}}},
{"data":{"name":"dash"},"mark":{"type":"rule","color":"#a8a8a8","strokeWidth":1.2,"strokeDash":[6,5]},"encoding":{"x":{"field":"a","type":"quantitative","scale":{"domain":[2550,3300],"nice":false,"zero":false},"axis":null}}}
]},
{"width":635,"height":126,
"title":{"text":"D","anchor":"start","frame":"group","offset":0,"dx":-74,"dy":31,"baseline":"alphabetic","fontSize":12,"fontWeight":"bold","color":"#000"},
"resolve":{"scale":{"y":"independent"},"axis":{"y":"independent"}},
"layer":[
{"data":{"name":"bands"},"mark":{"type":"rect"},"encoding":{"x":{"field":"s","type":"quantitative","scale":{"domain":[2550,3300],"nice":false,"zero":false},"axis":null},"x2":{"field":"e"},"color":{"field":"c","type":"nominal","scale":{"domain":["hi","lo"],"range":["#f6f8fe","#fdf9f0"]},"legend":null}}},
{"data":{"name":"dash"},"mark":{"type":"rule","color":"#a8a8a8","strokeWidth":1.2,"strokeDash":[6,5]},"encoding":{"x":{"field":"a","type":"quantitative","scale":{"domain":[2550,3300],"nice":false,"zero":false},"axis":null}}},
{"data":{"name":"ecc"},"mark":{"type":"line","color":"#9c9c9c","strokeWidth":2.5,"interpolate":"monotone"},"encoding":{"x":{"field":"a","type":"quantitative","scale":{"domain":[2550,3300],"nice":false,"zero":false},"axis":null},"y":{"field":"v","type":"quantitative","scale":{"domain":[0,0.6],"nice":false,"zero":false},"axis":{"orient":"right","values":[0,0.2,0.4,0.6],"format":"~g","title":"Eccentricity","titleX":51,"titleY":63,"titleAngle":270,"titleBaseline":"middle","titleAlign":"center","titleColor":"#aaaaaa","titleFontSize":12}}}},
{"data":{"name":"obl"},"mark":{"type":"line","color":"#000","strokeWidth":2.5,"interpolate":"monotone"},"encoding":{"x":{"field":"a","type":"quantitative","scale":{"domain":[2550,3300],"nice":false,"zero":false},"axis":null},"y":{"field":"v","type":"quantitative","scale":{"domain":[0.38526,0.42505],"nice":false,"zero":false},"axis":{"orient":"left","values":[0.39,0.4,0.41,0.42],"format":".2f","title":"Obliquity","titleX":-50.3,"titleY":63,"titleAngle":270,"titleBaseline":"middle","titleAlign":"center","titleColor":"#555555","titleFontSize":12}}}}
]},
{"width":635,"height":21,
"title":{"text":"E","anchor":"start","frame":"group","offset":0,"dx":-74,"dy":21,"baseline":"alphabetic","fontSize":12,"fontWeight":"bold","color":"#000"},
"layer":[
{"data":{"name":"bands"},"mark":{"type":"rect"},"encoding":{"x":{"field":"s","type":"quantitative","scale":{"domain":[2550,3300],"nice":false,"zero":false},"axis":null},"x2":{"field":"e"},"color":{"field":"c","type":"nominal","scale":{"domain":["hi","lo"],"range":["#f6f8fe","#fdf9f0"]},"legend":null}}},
{"data":{"name":"eb"},"mark":{"type":"rect","fillOpacity":0,"stroke":"#000","strokeWidth":1.5},"encoding":{"x":{"field":"s","type":"quantitative","scale":{"domain":[2550,3300],"nice":false,"zero":false},"axis":null},"x2":{"field":"e"}}},
{"data":{"name":"eb"},"mark":{"type":"text","fontSize":12,"baseline":"middle","align":"center","color":"#111"},"encoding":{"x":{"field":"m","type":"quantitative","scale":{"domain":[2550,3300],"nice":false,"zero":false},"axis":null},"text":{"field":"t"}}}
]},
{"width":635,"height":43,
"view":{"stroke":"#000","strokeWidth":1.5},
"title":{"text":"F","anchor":"start","frame":"group","offset":0,"dx":-74,"dy":31,"baseline":"alphabetic","fontSize":12,"fontWeight":"bold","color":"#000"},
"resolve":{"scale":{"y":"independent"},"axis":{"y":"independent"}},
"layer":[
{"data":{"name":"bands"},"mark":{"type":"rect"},"encoding":{"x":{"field":"s","type":"quantitative","scale":{"domain":[2550,3300],"nice":false,"zero":false},"axis":{"orient":"bottom","values":[2550,2600,2650,2700,2750,2800,2850,2900,2950,3000,3050,3100,3150,3200,3250,3300],"format":"d","labelExpr":"datum.value % 100 === 0 ? datum.label : ''","title":"Age (ka)","tickSize":9,"labelPadding":7,"titlePadding":6,"labelFontSize":11.5,"titleFontSize":11.5}},"x2":{"field":"e"},"color":{"field":"c","type":"nominal","scale":{"domain":["hi","lo"],"range":["#f6f8fe","#fdf9f0"]},"legend":null}}},
{"data":{"name":"d18o"},"mark":{"type":"area","color":"#d8584f"},"encoding":{"x":{"field":"a","type":"quantitative","scale":{"domain":[2550,3300],"nice":false,"zero":false},"axis":{"orient":"bottom","values":[2550,2600,2650,2700,2750,2800,2850,2900,2950,3000,3050,3100,3150,3200,3250,3300],"format":"d","labelExpr":"datum.value % 100 === 0 ? datum.label : ''","title":"Age (ka)","tickSize":9,"labelPadding":7,"titlePadding":6,"labelFontSize":11.5,"titleFontSize":11.5}},"y":{"field":"v","type":"quantitative","scale":{"domain":[2.788,3.247],"range":[0,13.6],"clamp":true,"nice":false,"zero":false},"axis":null},"y2":{"datum":3.247}}},
{"data":{"name":"d18o"},"mark":{"type":"area","color":"#7657a8"},"encoding":{"x":{"field":"a","type":"quantitative","scale":{"domain":[2550,3300],"nice":false,"zero":false},"axis":{"orient":"bottom","values":[2550,2600,2650,2700,2750,2800,2850,2900,2950,3000,3050,3100,3150,3200,3250,3300],"format":"d","labelExpr":"datum.value % 100 === 0 ? datum.label : ''","title":"Age (ka)","tickSize":9,"labelPadding":7,"titlePadding":6,"labelFontSize":11.5,"titleFontSize":11.5}},"y":{"field":"v","type":"quantitative","scale":{"domain":[3.247,4.237],"range":[13.6,43],"clamp":true,"nice":false,"zero":false},"axis":null},"y2":{"datum":3.247}}},
{"data":{"values":[{}]},"mark":{"type":"rule","color":"#999","strokeWidth":1},"encoding":{"y":{"datum":3.247,"type":"quantitative","scale":{"domain":[2.788,4.237],"reverse":true,"nice":false,"zero":false},"axis":null}}},
{"data":{"name":"d18o"},"mark":{"type":"line","color":"#333","strokeWidth":0.7},"encoding":{"x":{"field":"a","type":"quantitative","scale":{"domain":[2550,3300],"nice":false,"zero":false},"axis":{"orient":"bottom","values":[2550,2600,2650,2700,2750,2800,2850,2900,2950,3000,3050,3100,3150,3200,3250,3300],"format":"d","labelExpr":"datum.value % 100 === 0 ? datum.label : ''","title":"Age (ka)","tickSize":9,"labelPadding":7,"titlePadding":6,"labelFontSize":11.5,"titleFontSize":11.5}},"y":{"field":"v","type":"quantitative","scale":{"domain":[2.788,4.237],"reverse":true,"nice":false,"zero":false},"axis":{"values":[3,3.5,4],"format":"~g","labelExpr":"datum.value % 1 === 0 ? datum.label : ''","title":["Marine","δ¹⁸O (‰)"],"titleX":-50,"titleY":21.5,"titleAngle":270,"titleBaseline":"middle","titleAlign":"center","titleFontWeight":"bold","titleFontSize":12,"titleLineHeight":12.5}}}},
{"data":{"name":"annr"},"mark":{"type":"rule","color":"#444","strokeWidth":1},"encoding":{"x":{"field":"x1","type":"quantitative","scale":{"domain":[2550,3300],"nice":false,"zero":false},"axis":{"orient":"bottom","values":[2550,2600,2650,2700,2750,2800,2850,2900,2950,3000,3050,3100,3150,3200,3250,3300],"format":"d","labelExpr":"datum.value % 100 === 0 ? datum.label : ''","title":"Age (ka)","tickSize":9,"labelPadding":7,"titlePadding":6,"labelFontSize":11.5,"titleFontSize":11.5}},"x2":{"field":"x2"},"y":{"field":"y1","type":"quantitative","scale":{"domain":[2.788,4.237],"reverse":true,"nice":false,"zero":false},"axis":null},"y2":{"field":"y2"}}},
{"data":{"name":"annt"},"mark":{"type":"text","align":"left","baseline":"middle","fontSize":12,"color":"#111"},"encoding":{"x":{"field":"x","type":"quantitative","scale":{"domain":[2550,3300],"nice":false,"zero":false},"axis":{"orient":"bottom","values":[2550,2600,2650,2700,2750,2800,2850,2900,2950,3000,3050,3100,3150,3200,3250,3300],"format":"d","labelExpr":"datum.value % 100 === 0 ? datum.label : ''","title":"Age (ka)","tickSize":9,"labelPadding":7,"titlePadding":6,"labelFontSize":11.5,"titleFontSize":11.5}},"y":{"field":"y","type":"quantitative","scale":{"domain":[2.788,4.237],"reverse":true,"nice":false,"zero":false},"axis":null},"text":{"field":"t"}}}
]}
]
}
